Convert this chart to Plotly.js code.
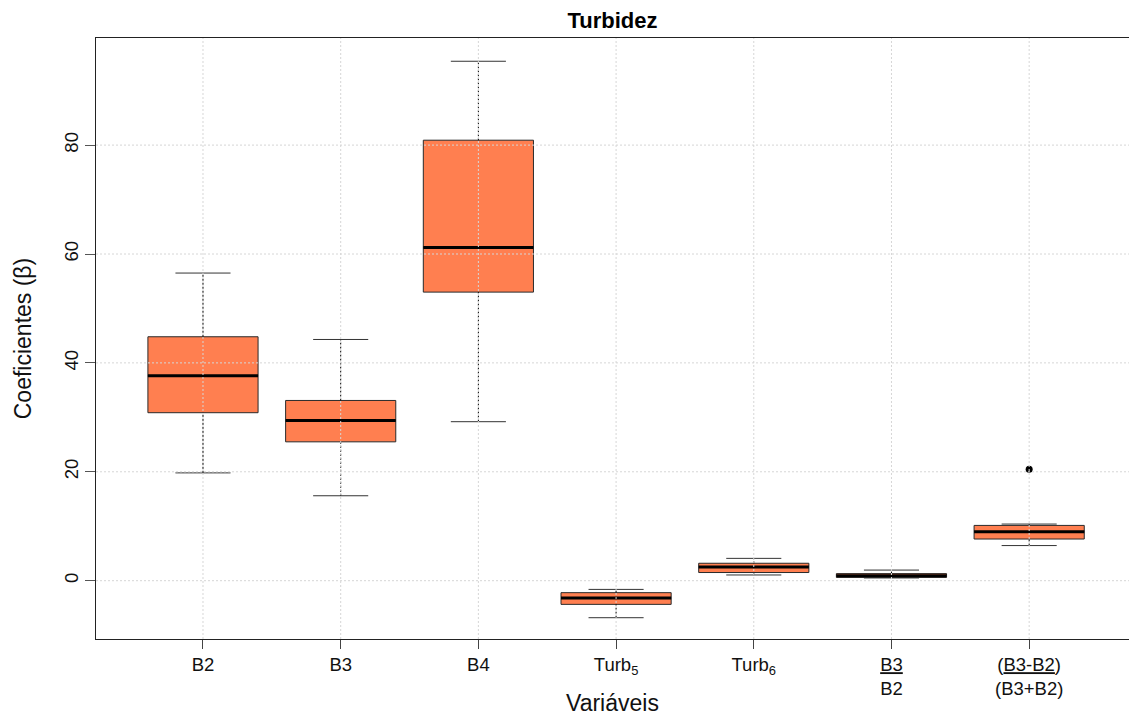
<!DOCTYPE html>
<html>
<head>
<meta charset="utf-8">
<script src="https://cdn.plot.ly/plotly-3.0.1.min.js"></script>
<style>
  html, body { margin: 0; padding: 0; background: #ffffff; }
  #chart { width: 1129px; height: 718px; }
</style>
</head>
<body>
<div id="chart"></div>
<script>
// Coefficient summaries (β) per explanatory variable
const variables = ['B2', 'B3', 'B4', 'Turb5', 'Turb6', 'B3/B2', '(B3-B2)/(B3+B2)'];
const tickLabels = [
  'B2',
  'B3',
  'B4',
  'Turb<sub>5</sub>',
  'Turb<sub>6</sub>',
  "<span style='text-decoration:underline'>B3</span><br>B2",
  "(<span style='text-decoration:underline'>B3-B2</span>)<br>(B3+B2)"
];
const whiskerLow  = [19.8, 15.6, 29.2, -6.8, 1.05, 0.5, 6.45];
const q1          = [30.85, 25.5, 53.0, -4.35, 1.5, 0.6, 7.65];
const medians     = [37.65, 29.4, 61.2, -3.2, 2.5, 0.9, 9.0];
const q3          = [44.8, 33.1, 80.9, -2.2, 3.2, 1.3, 10.15];
const whiskerHigh = [56.5, 44.3, 95.4, -1.6, 4.1, 1.95, 10.4];
const outlierVar  = ['(B3-B2)/(B3+B2)'];
const outlierVal  = [20.45];
const yTicks = [0, 20, 40, 60, 80];

const pos = variables.map((_, i) => i);
const boxWidth = 0.8;
const capHalf = boxWidth / 4;
const halfBox = boxWidth / 2;

// boxes (fences set to the quartiles, whiskers are drawn separately)
const boxes = {
  type: 'box',
  x: pos,
  q1: q1,
  median: medians,
  q3: q3,
  lowerfence: q1,
  upperfence: q3,
  width: boxWidth,
  whiskerwidth: 0,
  fillcolor: '#FF7F50',
  line: { color: '#2a2a2a', width: 1 },
  boxpoints: false,
  hoverinfo: 'skip',
  showlegend: false
};

// dotted whiskers from the box to the caps
const wx = [], wy = [];
pos.forEach((p, i) => {
  wx.push(p, p, null, p, p, null);
  wy.push(whiskerLow[i], q1[i], null, q3[i], whiskerHigh[i], null);
});
const whiskers = {
  type: 'scatter', mode: 'lines', x: wx, y: wy,
  line: { color: '#000000', width: 1, dash: '2px,2px' },
  hoverinfo: 'skip', showlegend: false
};

// solid caps at the whisker ends
const cx = [], cy = [];
pos.forEach((p, i) => {
  cx.push(p - capHalf, p + capHalf, null, p - capHalf, p + capHalf, null);
  cy.push(whiskerLow[i], whiskerLow[i], null, whiskerHigh[i], whiskerHigh[i], null);
});
const caps = {
  type: 'scatter', mode: 'lines', x: cx, y: cy,
  line: { color: '#333333', width: 1 },
  hoverinfo: 'skip', showlegend: false
};

// thick median bars
const mx = [], my = [];
pos.forEach((p, i) => {
  mx.push(p - halfBox, p + halfBox, null);
  my.push(medians[i], medians[i], null);
});
const medianBars = {
  type: 'scatter', mode: 'lines', x: mx, y: my,
  line: { color: '#000000', width: 3 },
  hoverinfo: 'skip', showlegend: false
};

const outliers = {
  type: 'scatter', mode: 'markers',
  x: outlierVar.map(v => variables.indexOf(v)),
  y: outlierVal,
  marker: { color: '#000000', size: 7, symbol: 'circle' },
  hoverinfo: 'skip', showlegend: false
};

// fine dotted grid drawn on top of the boxes
const gridStyle = { color: '#d6d6d6', width: 1, dash: '2px,2px' };
const shapes = [];
yTicks.forEach(v => shapes.push({
  type: 'line', layer: 'above', xref: 'paper', yref: 'y',
  x0: 0, x1: 1, y0: v, y1: v, line: gridStyle
}));
pos.forEach(p => shapes.push({
  type: 'line', layer: 'above', xref: 'x', yref: 'paper',
  x0: p, x1: p, y0: 0, y1: 1, line: gridStyle
}));

const baseFont = { family: 'Liberation Sans, Arial, sans-serif', color: '#111111' };

const layout = {
  width: 1129,
  height: 718,
  margin: { l: 96, r: 0, t: 38, b: 79 },
  paper_bgcolor: '#ffffff',
  plot_bgcolor: '#ffffff',
  font: baseFont,
  showlegend: false,
  title: {
    text: '<b>Turbidez</b>',
    font: { family: baseFont.family, size: 22, color: '#000000' },
    x: 0.5, xref: 'paper', xanchor: 'center',
    y: 0.972, yref: 'container', yanchor: 'middle'
  },
  xaxis: {
    range: [-0.777, 6.725],
    tickmode: 'array',
    tickvals: pos,
    ticktext: tickLabels,
    ticks: 'outside',
    ticklen: 9,
    tickcolor: '#444444',
    tickfont: { family: baseFont.family, size: 18.5, color: '#111111' },
    showgrid: false,
    zeroline: false,
    showline: true,
    mirror: true,
    linecolor: '#222222',
    linewidth: 1
  },
  yaxis: {
    range: [-10.71, 99.67],
    tickmode: 'array',
    tickvals: yTicks,
    ticktext: yTicks.map(String),
    tickangle: -90,
    ticks: 'outside',
    ticklen: 10,
    tickcolor: '#555555',
    tickfont: { family: baseFont.family, size: 18.5, color: '#111111' },
    showgrid: false,
    zeroline: false,
    showline: true,
    mirror: false,
    linecolor: '#222222',
    linewidth: 1,
    title: {
      text: 'Coeficientes (β)',
      font: { family: baseFont.family, size: 23, color: '#111111' },
      standoff: 22
    }
  },
  shapes: shapes,
  annotations: [{
    text: 'Variáveis',
    xref: 'paper', yref: 'paper',
    x: 0.5, y: -0.1065,
    xanchor: 'center', yanchor: 'middle',
    showarrow: false,
    font: { family: baseFont.family, size: 23, color: '#111111' }
  }]
};

Plotly.newPlot('chart', [boxes, whiskers, caps, medianBars, outliers], layout,
  { displayModeBar: false, staticPlot: true });
</script>
</body>
</html>
